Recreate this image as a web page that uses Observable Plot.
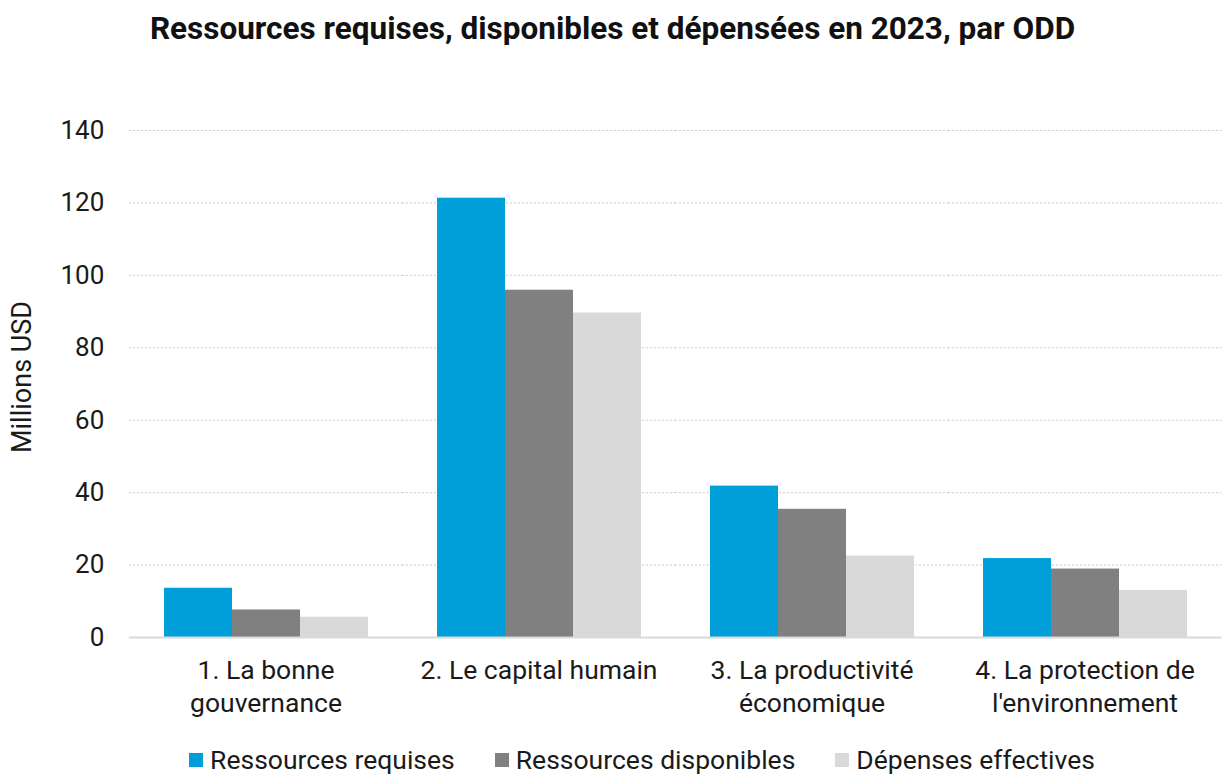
<!DOCTYPE html>
<html>
<head>
<meta charset="utf-8">
<script src="https://cdn.jsdelivr.net/npm/d3@7"></script>
<script src="https://cdn.jsdelivr.net/npm/@observablehq/plot@0.6"></script>
<style>
  html, body { margin: 0; padding: 0; background: #fff; }
  body { width: 1225px; height: 774px; overflow: hidden; font-family: Roboto, "Noto Sans", sans-serif; color: #1a1a1a; }
  #title { height: 56px; line-height: 58px; text-align: center; font-size: 31.5px; font-weight: bold; color: #111; }
  #chart { height: 680px; }
  #legend { display: flex; justify-content: center; align-items: center; gap: 40px; height: 38px; padding-left: 59px; box-sizing: border-box; font-size: 26.5px; color: #1a1a1a; padding-top: 9px; }
  .item { display: flex; align-items: center; gap: 7px; }
  .sw { width: 14px; height: 14px; display: inline-block; }
</style>
</head>
<body>
<div id="title">Ressources requises, disponibles et dépensées en 2023, par ODD</div>
<div id="chart"></div>
<div id="legend"></div>
<script>
const categories = ["1. La bonne gouvernance", "2. Le capital humain", "3. La productivité économique", "4. La protection de l'environnement"];
const categoryLabels = ["1. La bonne\ngouvernance", "2. Le capital humain", "3. La productivité\néconomique", "4. La protection de\nl'environnement"];
const series = ["Ressources requises", "Ressources disponibles", "Dépenses effectives"];
const requises = [13.6, 121.3, 41.8, 21.8];
const disponibles = [7.6, 95.9, 35.4, 18.9];
const depenses = [5.6, 89.6, 22.5, 13.0];
const colors = ["#009FDA", "#808080", "#D9D9D9"];
const yTicks = [0, 20, 40, 60, 80, 100, 120, 140];
const yLabel = "Millions USD";

const valuesBySeries = [requises, disponibles, depenses];
const data = [];
categories.forEach((c, i) => {
  series.forEach((s, j) => {
    data.push({cat: c, series: s, value: valuesBySeries[j][i]});
  });
});

const W = 1225, ML = 128, MR = 3;
const padInner = 0.25, padOuter = 0.125;
const step = (W - ML - MR) / (categories.length - padInner + 2 * padOuter);
const outer = step * padOuter;          // distance from frame edge to first facet
const ext = -step * padInner / 2;       // extend facet rules so they join across facet gaps

const chart = Plot.plot({
  width: W,
  height: 680,
  marginLeft: ML,
  marginRight: MR,
  marginTop: 74,
  marginBottom: 99,
  style: {fontFamily: "Roboto, 'Noto Sans', sans-serif", fontSize: "26px", color: "#1a1a1a", background: "#fff"},
  fx: {domain: categories, paddingInner: padInner, paddingOuter: padOuter, label: null},
  x: {domain: series, padding: 0, axis: null},
  y: {domain: [0, 140], label: null},
  color: {domain: series, range: colors},
  marks: [
    Plot.ruleY(yTicks.filter(d => d > 0), {stroke: "#c9c9c9", strokeWidth: 1, strokeDasharray: "2,2", insetLeft: ext, insetRight: ext}),
    Plot.barY(data, {fx: "cat", x: "series", y: "value", fill: "series"}),
    Plot.ruleY([0], {stroke: "#d9d9d9", strokeWidth: 2, insetLeft: ext, insetRight: ext}),
    Plot.axisY({ticks: yTicks, tickSize: 0, tickPadding: 25 + outer, fontSize: 26, label: null}),
    Plot.axisFx({anchor: "bottom", tickSize: 0, tickPadding: 18, fontSize: 26.5, lineHeight: 1.25, label: null,
      tickFormat: d => categoryLabels[categories.indexOf(d)]}),
    Plot.text([yLabel], {fx: () => categories[0], frameAnchor: "left", rotate: -90,
      dx: -(ML + outer - 21.5), dy: -7, fontSize: 27, text: d => d, fill: "#1a1a1a",
      textAnchor: "middle", lineAnchor: "middle"})
  ]
});
document.getElementById("chart").appendChild(chart);

const legend = document.getElementById("legend");
series.forEach((s, i) => {
  const item = document.createElement("div");
  item.className = "item";
  const sw = document.createElement("span");
  sw.className = "sw";
  sw.style.background = colors[i];
  const t = document.createElement("span");
  t.textContent = s;
  item.appendChild(sw);
  item.appendChild(t);
  legend.appendChild(item);
});
</script>
</body>
</html>
